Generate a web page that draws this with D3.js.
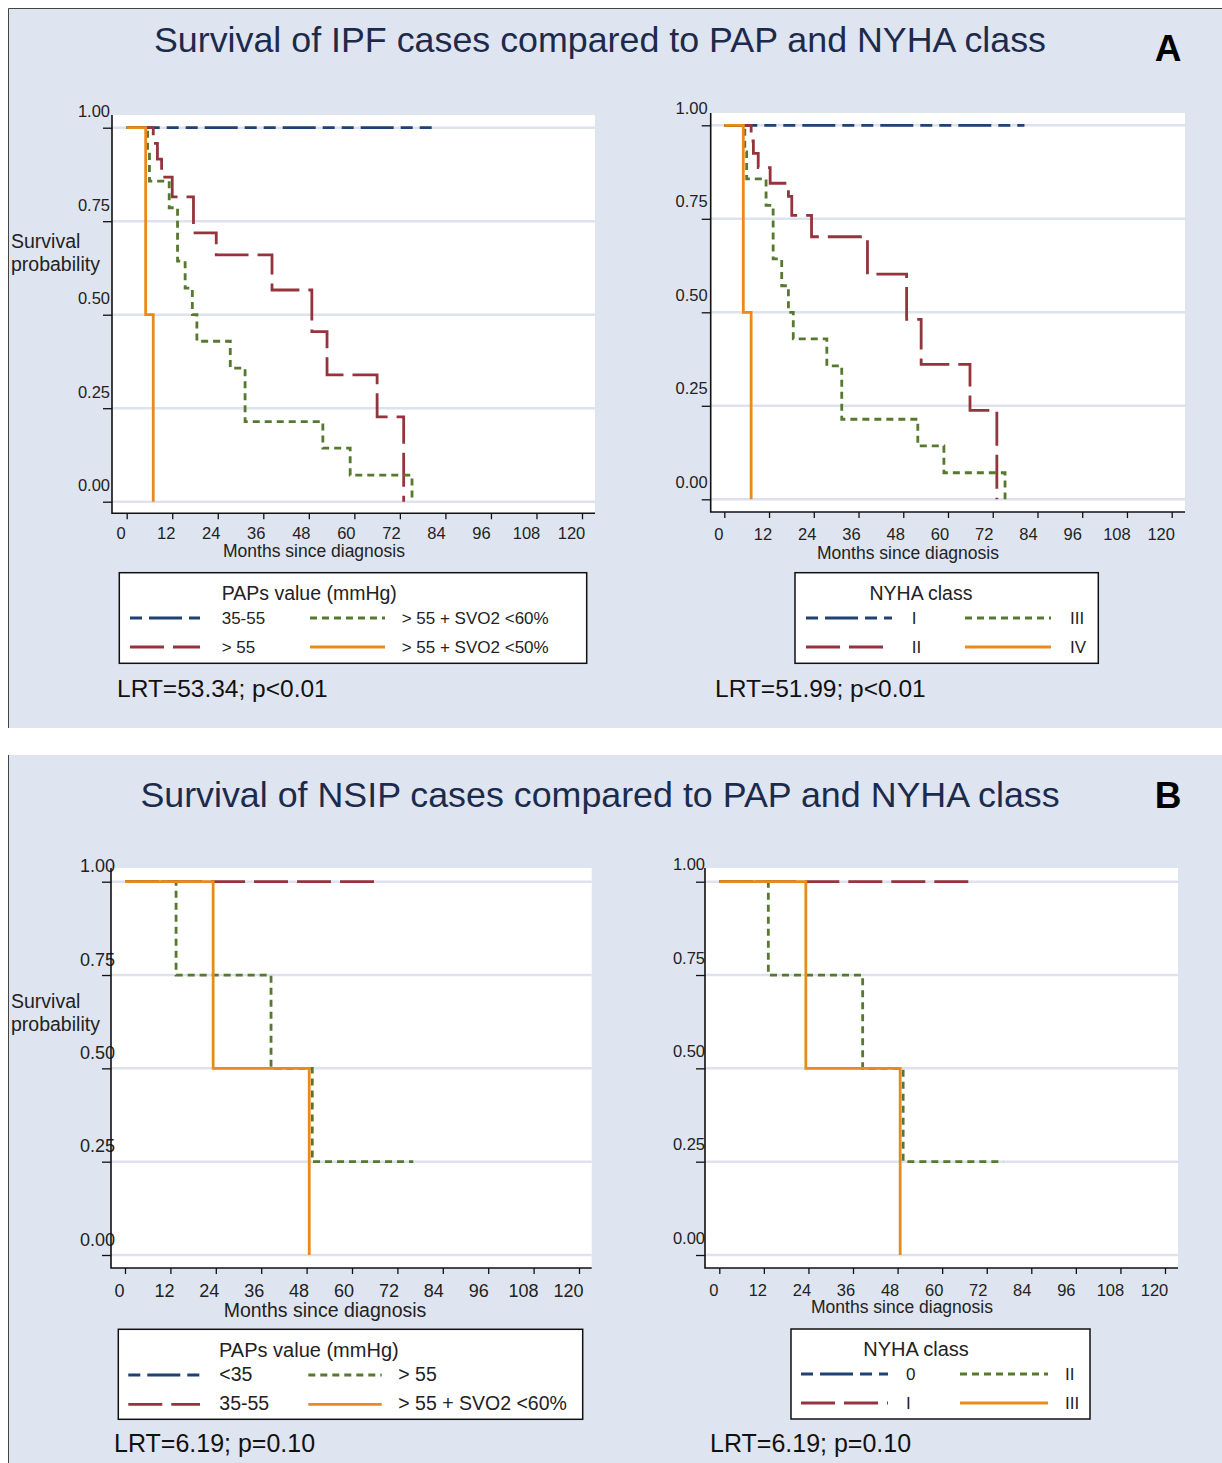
<!DOCTYPE html>
<html>
<head>
<meta charset="utf-8">
<script src="https://cdn.jsdelivr.net/npm/d3@7"></script>
<style>
  body { margin: 0; background: #fff; }
  svg { display: block; font-family: "Liberation Sans", Arial, sans-serif; }
</style>
</head>
<body>
<div class="canvas"></div>
<script>
// ---- axis ticks
const monthTicks = [0, 12, 24, 36, 48, 60, 72, 84, 96, 108, 120]
const survTicks = [0, 0.25, 0.5, 0.75, 1]

// ---- IPF, by PAPs value (months since diagnosis / survival probability)
const ipfPapLabels = ['35-55', '> 55', '> 55 + SVO2 <60%', '> 55 + SVO2 <50%']
const ipfPapTimes = [
  [0, 82],
  [0, 7, 8.1, 9.2, 12, 17.6, 23.6, 38.3, 48.8, 52.8, 66, 73],
  [0, 5.5, 6, 11.2, 13.4, 15.4, 17.3, 18.5, 27.3, 31.2, 51.7, 58.9, 75.2],
  [0, 5, 7]
]
const ipfPapSurv = [
  [1, 1],
  [1, 0.958, 0.916, 0.868, 0.815, 0.719, 0.66, 0.566, 0.455, 0.339, 0.227, 0],
  [1, 0.929, 0.857, 0.786, 0.643, 0.571, 0.5, 0.429, 0.357, 0.214, 0.143, 0.071, 0],
  [1, 0.5, 0]
]

// ---- IPF, by NYHA class
const ipfNyhaLabels = ['I', 'II', 'III', 'IV']
const ipfNyhaTimes = [
  [0, 80.5],
  [0, 7.2, 7.8, 9.1, 12.3, 17.2, 18.1, 23.4, 38.4, 48.9, 52.8, 65.9, 73.1],
  [0, 5.5, 6, 11.2, 13.1, 15.4, 17.2, 18.5, 27.5, 31.5, 51.9, 58.9, 75.3],
  [0, 5.1, 7.2]
]
const ipfNyhaSurv = [
  [1, 1],
  [1, 0.958, 0.925, 0.887, 0.845, 0.81, 0.759, 0.702, 0.602, 0.481, 0.361, 0.238, 0],
  [1, 0.929, 0.857, 0.786, 0.643, 0.571, 0.5, 0.429, 0.357, 0.214, 0.143, 0.071, 0],
  [1, 0.5, 0]
]

// ---- NSIP, by PAPs value
const nsipPapLabels = ['<35', '35-55', '> 55', '> 55 + SVO2 <60%']
const nsipPapTimes = [
  [],
  [0, 67.7],
  [0, 13.5, 38.6, 49.5, 76.2],
  [0, 23.3, 48.7]
]
const nsipPapSurv = [
  [],
  [1, 1],
  [1, 0.75, 0.5, 0.25, 0.25],
  [1, 0.5, 0]
]

// ---- NSIP, by NYHA class
const nsipNyhaLabels = ['0', 'I', 'II', 'III']
const nsipNyhaTimes = [
  [],
  [0, 68.6],
  [0, 13.2, 38.6, 49.5, 76.5],
  [0, 23.3, 48.7]
]
const nsipNyhaSurv = [
  [],
  [1, 1],
  [1, 0.75, 0.5, 0.25, 0.25],
  [1, 0.5, 0]
]

// series styles (stata s2color-ish)
const colours = ['#1f4272', '#94343c', '#56782f', '#e98b1a']
const dashes = ['33,7,12,7,12,7', '34,9', '7,5', null]
const bg = '#dfe5f0'
const grid = '#dde2ec'

const svg = d3.select('.canvas')
  .append('svg')
  .attr('width', 1222)
  .attr('height', 1463)

// panel backgrounds
svg.append('rect').attr('x', 8).attr('y', 8).attr('width', 1230).attr('height', 720).attr('fill', bg)
svg.append('rect').attr('x', 8).attr('y', 755).attr('width', 1230).attr('height', 720).attr('fill', bg)
svg.append('path')
  .attr('d', 'M1230,8.5H8.5V728 M8.5,755V1470')
  .attr('fill', 'none').attr('stroke', '#444').attr('stroke-width', 1)

// titles
const titles = [
  {text: 'Survival of IPF cases compared to PAP and NYHA class', y: 52, tag: 'A', tagY: 61},
  {text: 'Survival of NSIP cases compared to PAP and NYHA class', y: 807, tag: 'B', tagY: 808}
]
titles.forEach(t => {
  svg.append('text')
    .attr('x', 600).attr('y', t.y)
    .attr('text-anchor', 'middle')
    .attr('fill', '#1c2b4b')
    .style('font-size', '35.8px')
    .text(t.text)
  svg.append('text')
    .attr('x', 1168).attr('y', t.tagY)
    .attr('text-anchor', 'middle')
    .attr('fill', '#000')
    .style('font-size', '37px')
    .style('font-weight', 'bold')
    .text(t.tag)
})

const panels = [
  {
    times: ipfPapTimes, surv: ipfPapSurv, labels: ipfPapLabels,
    legendTitle: 'PAPs value (mmHg)', lrt: 'LRT=53.34; p<0.01',
    box: [112, 115, 595, 513.3], xr: [126.7, 582], yr: [501.7, 127.7],
    yLabelRight: -2, yLabelDy: -11, tickFont: 16.5, xLabelOff: 26, xTitleY: 557, xTitleX: 314, axisFont: 17.5,
    yTitle: [248, 271],
    legend: {box: [119.3, 572.7, 586.7, 663.3], titleX: 221.7, titleAnchor: 'start', titleY: 600, rows: [618, 647],
      samples: [[130, 200], [310, 385]], labelX: [221.7, 401.7], titleFont: 19.5, font: 17},
    lrtPos: [117, 697], lrtFont: 24.5
  },
  {
    times: ipfNyhaTimes, surv: ipfNyhaSurv, labels: ipfNyhaLabels,
    legendTitle: 'NYHA class', lrt: 'LRT=51.99; p<0.01',
    box: [710.7, 113, 1185, 512], xr: [724.3, 1171.7], yr: [499.3, 125.3],
    yLabelRight: -3, yLabelDy: -12, tickFont: 16.5, xLabelOff: 28, xTitleY: 559, xTitleX: 908, axisFont: 17.5,
    yTitle: null,
    legend: {box: [795, 572.7, 1098.3, 663.3], titleX: 921, titleAnchor: 'middle', titleY: 600, rows: [618, 647],
      samples: [[806, 892], [965, 1051]], labelX: [911.7, 1070], titleFont: 19.5, font: 17},
    lrtPos: [715, 697], lrtFont: 24.5
  },
  {
    times: nsipPapTimes, surv: nsipPapSurv, labels: nsipPapLabels,
    legendTitle: 'PAPs value (mmHg)', lrt: 'LRT=6.19; p=0.10',
    box: [111, 868, 591.7, 1268], xr: [125, 579], yr: [1255, 881.7],
    yLabelRight: 4, yLabelDy: -10, tickFont: 18, xLabelOff: 29, xTitleY: 1317, xTitleX: 325, axisFont: 19.5,
    yTitle: [1008, 1031],
    legend: {box: [118.3, 1329.3, 582.7, 1419.3], titleX: 219, titleAnchor: 'start', titleY: 1357, rows: [1375, 1404.3],
      samples: [[128.3, 200], [308.3, 381.7]], labelX: [219.3, 398.3], titleFont: 20, font: 19.5},
    lrtPos: [114, 1452], lrtFont: 25
  },
  {
    times: nsipNyhaTimes, surv: nsipNyhaSurv, labels: nsipNyhaLabels,
    legendTitle: 'NYHA class', lrt: 'LRT=6.19; p=0.10',
    box: [705, 868, 1178, 1268], xr: [719.3, 1165], yr: [1255, 881.7],
    yLabelRight: 0, yLabelDy: -12, tickFont: 16.5, xLabelOff: 28, xTitleY: 1313, xTitleX: 902, axisFont: 17.5,
    yTitle: null,
    legend: {box: [791, 1329, 1090, 1419], titleX: 916, titleAnchor: 'middle', titleY: 1356, rows: [1374, 1403],
      samples: [[801, 888], [960, 1048]], labelX: [906, 1065], titleFont: 20, font: 17},
    lrtPos: [710, 1452], lrtFont: 25
  }
]

panels.forEach(p => {
  const [x0, y0, x1, y1] = p.box
  const x = d3.scaleLinear().domain([0, 120]).range(p.xr)
  const y = d3.scaleLinear().domain([0, 1]).range(p.yr)
  const g = svg.append('g')

  // white plot region
  g.append('rect')
    .attr('x', x0).attr('y', y0)
    .attr('width', x1 - x0).attr('height', y1 - y0)
    .attr('fill', '#fff')

  // grid lines
  g.selectAll('.grid')
    .data(survTicks)
    .enter()
    .append('line')
      .attr('x1', x0).attr('x2', x1)
      .attr('y1', d => y(d)).attr('y2', d => y(d))
      .attr('stroke', grid)
      .attr('stroke-width', 2.5)

  // y axis
  const yAxis = g.append('g')
    .attr('transform', `translate(${x0},0)`)
    .call(d3.axisLeft(y).tickValues(survTicks).tickSize(9).tickFormat(d3.format('.2f')))
  yAxis.select('.domain').remove()
  yAxis.selectAll('line').attr('stroke', '#111').attr('stroke-width', 1.3)
  yAxis.selectAll('text')
    .attr('x', p.yLabelRight)
    .attr('dy', p.yLabelDy)
    .attr('fill', '#222')
    .style('font-size', p.tickFont + 'px')
    .style('font-family', '"Liberation Sans", Arial, sans-serif')

  // x axis (labels sit a little left of their ticks in the original)
  const xAxis = g.append('g')
    .attr('transform', `translate(0,${y1})`)
    .call(d3.axisBottom(x).tickValues(monthTicks).tickSize(6))
  xAxis.select('.domain').remove()
  xAxis.selectAll('line').attr('stroke', '#111').attr('stroke-width', 1.3)
  xAxis.selectAll('text')
    .attr('y', p.xLabelOff)
    .attr('dy', 0)
    .attr('dx', d => -6 - d / 24)
    .attr('fill', '#222')
    .style('font-size', p.tickFont + 'px')
    .style('font-family', '"Liberation Sans", Arial, sans-serif')

  // axis lines
  g.append('path')
    .attr('d', `M${x0},${y0}V${y1}H${x1}`)
    .attr('fill', 'none')
    .attr('stroke', '#111')
    .attr('stroke-width', 1.6)

  g.append('text')
    .attr('x', p.xTitleX).attr('y', p.xTitleY)
    .attr('text-anchor', 'middle')
    .attr('fill', '#222')
    .style('font-size', p.axisFont + 'px')
    .text('Months since diagnosis')

  if (p.yTitle) {
    ['Survival', 'probability'].forEach((t, i) => {
      g.append('text')
        .attr('x', 11).attr('y', p.yTitle[i])
        .attr('fill', '#222')
        .style('font-size', '19.5px')
        .text(t)
    })
  }

  // survival curves
  const line = d3.line()
    .x(d => x(d[0]))
    .y(d => y(d[1]))
    .curve(d3.curveStepAfter)

  p.times.forEach((times, i) => {
    if (!times.length) return
    g.append('path')
      .attr('d', line(d3.zip(times, p.surv[i])))
      .attr('fill', 'none')
      .attr('stroke', colours[i])
      .attr('stroke-width', 2.8)
      .attr('stroke-dasharray', dashes[i])
  })

  // legend
  const L = p.legend
  g.append('rect')
    .attr('x', L.box[0]).attr('y', L.box[1])
    .attr('width', L.box[2] - L.box[0]).attr('height', L.box[3] - L.box[1])
    .attr('fill', '#fff')
    .attr('stroke', '#111')
    .attr('stroke-width', 1.5)
  g.append('text')
    .attr('x', L.titleX).attr('y', L.titleY)
    .attr('text-anchor', L.titleAnchor)
    .attr('fill', '#222')
    .style('font-size', L.titleFont + 'px')
    .text(p.legendTitle)

  p.labels.forEach((lab, i) => {
    const col = Math.floor(i / 2), row = i % 2
    g.append('line')
      .attr('x1', L.samples[col][0]).attr('x2', L.samples[col][1])
      .attr('y1', L.rows[row]).attr('y2', L.rows[row])
      .attr('stroke', colours[i])
      .attr('stroke-width', 2.8)
      .attr('stroke-dasharray', i === 0 ? '12,7,33,7,12,7' : dashes[i])
    g.append('text')
      .attr('x', L.labelX[col]).attr('y', L.rows[row] + 6)
      .attr('fill', '#222')
      .style('font-size', L.font + 'px')
      .text(lab)
  })

  g.append('text')
    .attr('x', p.lrtPos[0]).attr('y', p.lrtPos[1])
    .attr('fill', '#111')
    .style('font-size', p.lrtFont + 'px')
    .text(p.lrt)
})
</script>
</body>
</html>
